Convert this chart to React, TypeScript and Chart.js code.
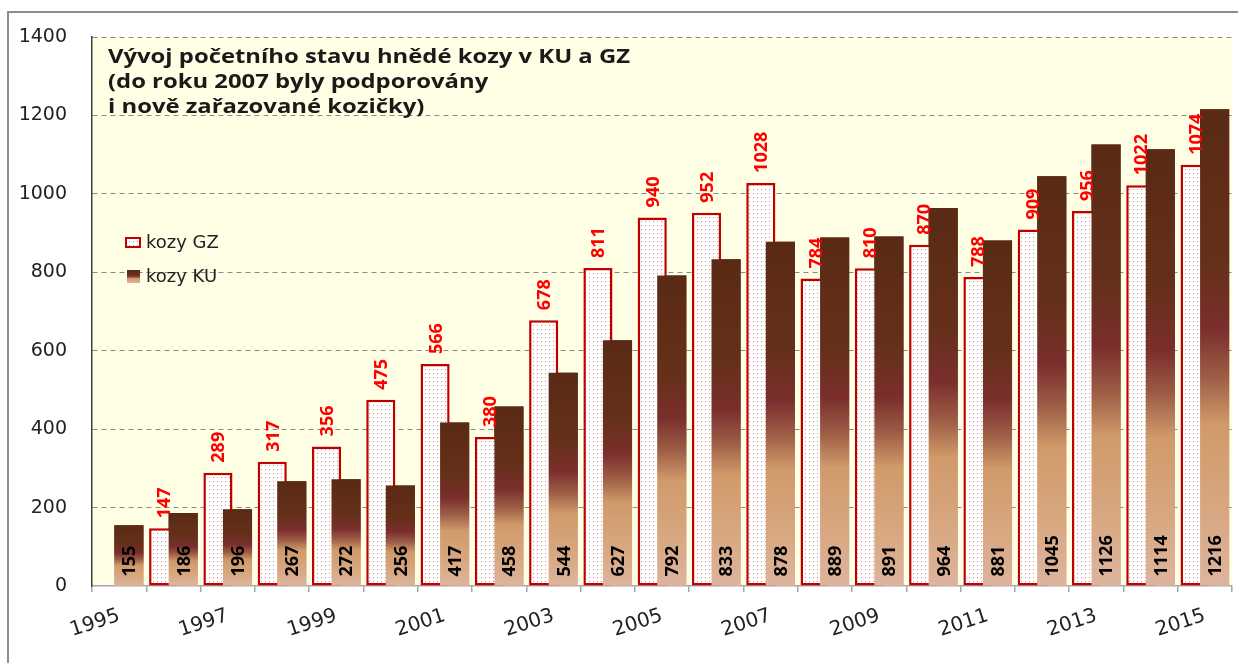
import React, { useEffect, useRef } from 'react';
import { Chart, registerables } from 'chart.js';

Chart.register(...registerables);

const years = ['1995', '1996', '1997', '1998', '1999', '2000', '2001', '2002', '2003', '2004', '2005', '2006', '2007', '2008', '2009', '2010', '2011', '2012', '2013', '2014', '2015'];
const gzValues: (number | null)[] = [null, 147, 289, 317, 356, 475, 566, 380, 678, 811, 940, 952, 1028, 784, 810, 870, 788, 909, 956, 1022, 1074];
const kuValues: number[] = [155, 186, 196, 267, 272, 256, 417, 458, 544, 627, 792, 833, 878, 889, 891, 964, 881, 1045, 1126, 1114, 1216];
const yMax = 1400;
const yStep = 200;
const titleLines = ['Vývoj početního stavu hnědé kozy v KU a GZ', '(do roku 2007 byly podporovány', 'i nově zařazované kozičky)'];
const legendLabels = ['kozy GZ', 'kozy KU'];

function kuGradient(ctx: CanvasRenderingContext2D, top: number, bottom: number) {
  const g = ctx.createLinearGradient(0, top, 0, bottom);
  g.addColorStop(0, '#5A2A14');
  g.addColorStop(0.32, '#65301A');
  g.addColorStop(0.46, '#7B2E2D');
  g.addColorStop(0.56, '#9C5C45');
  g.addColorStop(0.66, '#D09A6A');
  g.addColorStop(0.85, '#D8A882');
  g.addColorStop(1, '#DDB49E');
  return g;
}

export default function App() {
  const ref = useRef<HTMLCanvasElement>(null);

  useEffect(() => {
    document.body.style.margin = '0';
    const canvas = ref.current!;
    const c2d = canvas.getContext('2d')!;
    const pc = document.createElement('canvas');
    pc.width = 4;
    pc.height = 4;
    const pctx = pc.getContext('2d')!;
    pctx.fillStyle = '#ffffff';
    pctx.fillRect(0, 0, 4, 4);
    pctx.fillStyle = '#C49494';
    pctx.fillRect(1, 1, 1, 1);
    const pattern = c2d.createPattern(pc, 'repeat')!;

    const customPlugin = {
      id: 'custom',
      beforeDraw(chart: any) {
        const { ctx, chartArea: a } = chart;
        ctx.save();
        ctx.fillStyle = '#ffffff';
        ctx.fillRect(0, 0, chart.width, chart.height);
        ctx.fillStyle = '#FFFFE5';
        ctx.fillRect(a.left, a.top, a.right - a.left, a.bottom - a.top);
        ctx.strokeStyle = '#8C8C8C';
        ctx.lineWidth = 2;
        ctx.strokeRect(8, 12, chart.width + 20, chart.height + 20);
        ctx.restore();
      },
      afterDatasetsDraw(chart: any) {
        const { ctx, chartArea: a } = chart;
        // KU bars drawn over GZ bars
        ctx.save();
        ctx.beginPath();
        ctx.rect(a.left, a.top - 2, a.right - a.left, a.bottom - a.top + 4);
        ctx.clip();
        chart.getDatasetMeta(1).data.forEach((el: any) => el.draw(ctx));
        ctx.restore();

        const fs = 18;
        ctx.save();
        ctx.font = `bold ${fs}px "Open Sans"`;
        ctx.textAlign = 'left';
        ctx.textBaseline = 'alphabetic';
        const gzMeta = chart.getDatasetMeta(0);
        gzValues.forEach((v, i) => {
          if (v === null) return;
          const el = gzMeta.data[i];
          ctx.save();
          ctx.translate(el.x, el.y - 10);
          ctx.rotate(-Math.PI / 2);
          ctx.fillStyle = '#FF0000';
          ctx.fillText(String(v), 0, fs * 0.357);
          ctx.restore();
        });
        const kuMeta = chart.getDatasetMeta(1);
        kuValues.forEach((v, i) => {
          const el = kuMeta.data[i];
          ctx.save();
          ctx.translate(el.x, el.base - 9);
          ctx.rotate(-Math.PI / 2);
          ctx.fillStyle = '#000000';
          ctx.fillText(String(v), 0, fs * 0.357);
          ctx.restore();
        });
        ctx.restore();
      },
      afterDraw(chart: any) {
        const { ctx } = chart;
        // title
        ctx.save();
        ctx.font = 'bold 19px "Open Sans"';
        ctx.fillStyle = '#1A1A1A';
        ctx.textAlign = 'left';
        ctx.textBaseline = 'alphabetic';
        const w = ctx.measureText(titleLines[0]).width;
        const sx = 522 / w;
        ctx.translate(108, 0);
        ctx.scale(sx, 1);
        const baselines = [63, 88, 113];
        titleLines.forEach((t, i) => ctx.fillText(t, 0, baselines[i]));
        ctx.restore();

        // legend
        ctx.save();
        ctx.fillStyle = pattern;
        ctx.fillRect(126, 238, 14, 9);
        ctx.strokeStyle = '#C00000';
        ctx.lineWidth = 2;
        ctx.strokeRect(126, 238, 14, 9);
        ctx.fillStyle = kuGradient(ctx, 270, 283);
        ctx.fillRect(127, 270, 13, 13);
        ctx.font = '18px "DejaVu Sans"';
        ctx.fillStyle = '#222222';
        ctx.textAlign = 'left';
        ctx.textBaseline = 'middle';
        ctx.fillText(legendLabels[0], 146, 243);
        ctx.fillText(legendLabels[1], 146, 277);
        ctx.restore();
      },
    };

    const chart = new Chart(canvas, {
      type: 'bar',
      data: {
        labels: years,
        datasets: [
          {
            label: legendLabels[0],
            data: gzValues as any,
            backgroundColor: pattern as any,
            borderColor: '#C00000',
            borderWidth: 2.5,
            borderSkipped: false,
            categoryPercentage: 0.72,
            barPercentage: 1.49,
          },
          {
            label: legendLabels[1],
            data: kuValues,
            backgroundColor: (c: any) => {
              const ch = c.chart;
              if (!ch.chartArea || c.type !== 'data') return '#7A3A20';
              const y = ch.scales.y;
              return kuGradient(ch.ctx, y.getPixelForValue(c.parsed.y), y.getPixelForValue(0));
            },
            borderWidth: 0,
            categoryPercentage: 0.72,
            barPercentage: 1.49,
          },
        ],
      },
      options: {
        responsive: false,
        animation: false,
        devicePixelRatio: 1,
        layout: { padding: { top: 37, right: 6, left: 0, bottom: 0 } },
        plugins: {
          legend: { display: false },
          tooltip: { enabled: false },
        },
        scales: {
          x: {
            grid: { offset: true, drawOnChartArea: false, drawTicks: true, tickLength: 6, color: '#A6A6A6', lineWidth: 1.5 },
            border: { display: true, color: '#A6A6A6', width: 1.5 },
            ticks: {
              autoSkip: false,
              minRotation: 18,
              maxRotation: 18,
              padding: 12,
              color: '#222222',
              font: { family: 'DejaVu Sans', size: 20 },
              callback: (_v: any, i: number) => (i % 2 === 0 ? years[i] : ''),
            },
            afterFit: (s: any) => {
              s.height = 77;
            },
          },
          y: {
            min: 0,
            max: yMax,
            ticks: {
              stepSize: yStep,
              padding: 25,
              color: '#222222',
              font: { family: 'DejaVu Sans', size: 19 },
              callback: (v: any) => String(v),
            },
            grid: {
              drawTicks: false,
              color: (c: any) => (c.tick && c.tick.value === 0 ? 'rgba(0,0,0,0)' : '#8A8A8A'),
              lineWidth: 1,
            },
            border: { display: true, color: '#3F3F3F', width: 1.5, dash: [5, 4] },
            afterFit: (s: any) => {
              s.width = 92;
            },
          },
        },
      },
      plugins: [customPlugin],
    } as any);

    return () => chart.destroy();
  }, []);

  return (
    <div style={{ width: 1238, height: 663 }}>
      <canvas ref={ref} width={1238} height={663} style={{ display: 'block' }} />
    </div>
  );
}
